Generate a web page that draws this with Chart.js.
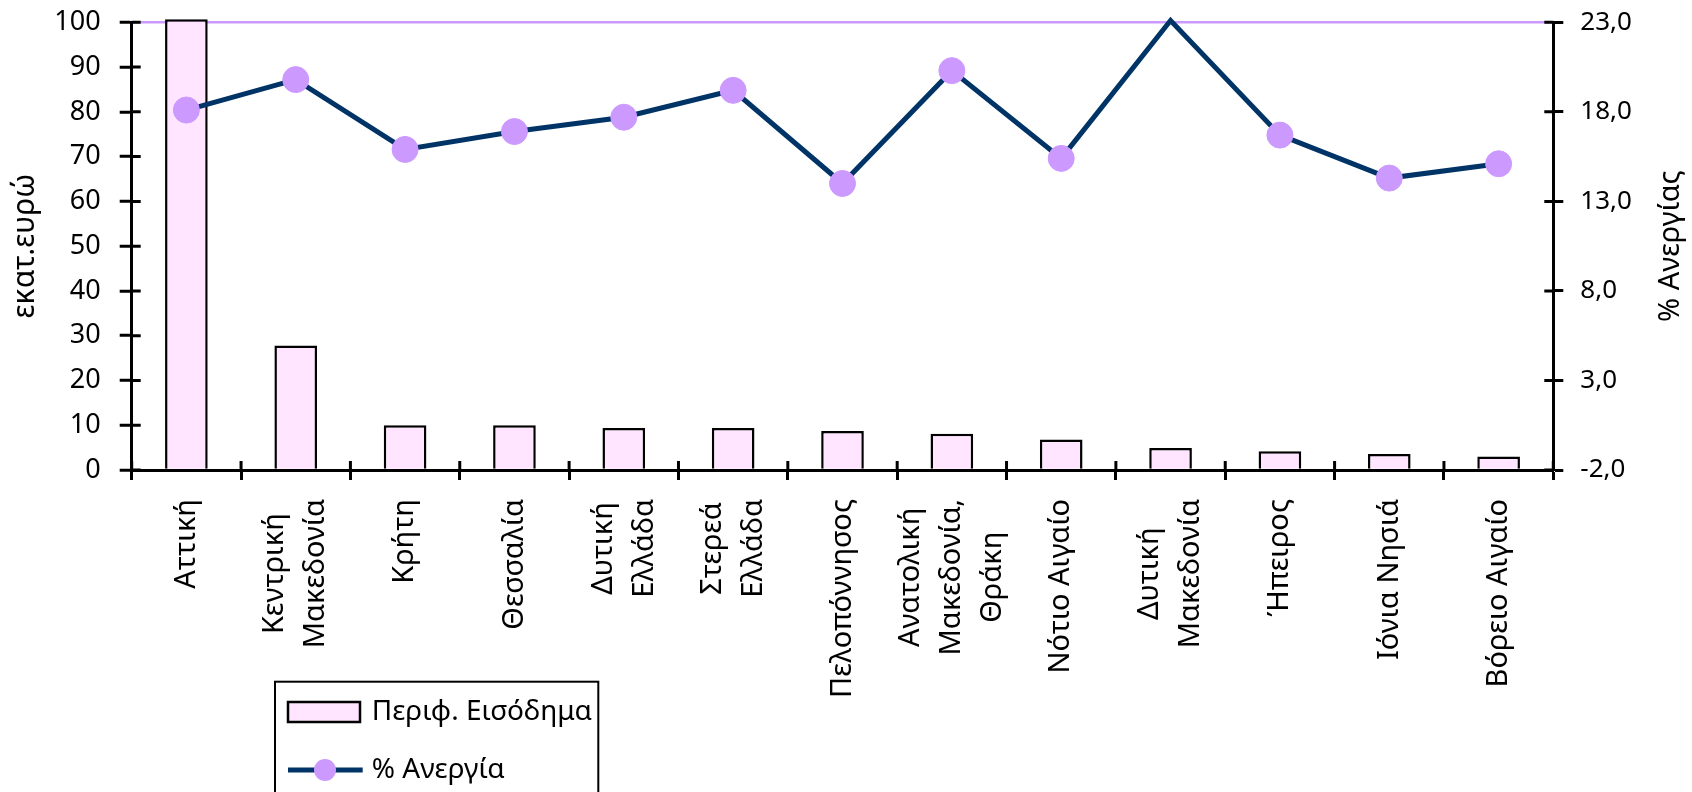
<!DOCTYPE html>
<html>
<head>
<meta charset="utf-8">
<script src="https://cdn.jsdelivr.net/npm/chart.js@4/dist/chart.umd.min.js"></script>
<style>
html,body{margin:0;padding:0;background:#fff;}
#wrap{width:1692px;height:792px;position:relative;}
</style>
</head>
<body>
<div id="wrap"><canvas id="c"></canvas></div>
<script>
const categories = [
  ["Αττική"], ["Κεντρική", "Μακεδονία"], ["Κρήτη"], ["Θεσσαλία"],
  ["Δυτική", "Ελλάδα"], ["Στερεά", "Ελλάδα"], ["Πελοπόννησος"],
  ["Ανατολική", "Μακεδονία,", "Θράκη"], ["Νότιο Αιγαίο"], ["Δυτική", "Μακεδονία"],
  ["Ήπειρος"], ["Ιόνια Νησιά"], ["Βόρειο Αιγαίο"]
];
const incomeValues = [100.7, 27.8, 10.0, 10.0, 9.4, 9.4, 8.7, 8.1, 6.8, 4.9, 4.2, 3.6, 3.0];
const unemploymentValues = [18.1, 19.8, 15.9, 16.9, 17.7, 19.2, 14.0, 20.3, 15.4, 23.1, 16.7, 14.3, 15.1];
const leftTickValues = [0, 10, 20, 30, 40, 50, 60, 70, 80, 90, 100];
const rightTickValues = [-2, 3, 8, 13, 18, 23];
const seriesNames = ["Περιφ. Εισόδημα", "% Ανεργία"];
const axisTitles = ["εκατ.ευρώ", "% Ανεργίας"];

const BAR_FILL = '#FFE5FF';
const LINE_COLOR = '#003366';
const MARKER_COLOR = '#CC99FF';
const FONT = '"Noto Sans", "DejaVu Sans", sans-serif';

Chart.defaults.font.family = FONT;
Chart.defaults.color = '#000';

const decor = {
  id: 'decor',
  afterDraw(chart) {
    const { ctx, chartArea: ca, scales } = chart;
    const x = scales.x, yl = scales.y, yr = scales.y1;
    ctx.save();
    // inner halves of the crossing tick marks
    ctx.strokeStyle = '#000';
    ctx.lineWidth = 3;
    ctx.beginPath();
    yl.ticks.forEach(t => { const py = yl.getPixelForValue(t.value); ctx.moveTo(ca.left, py); ctx.lineTo(ca.left + 9, py); });
    yr.ticks.forEach(t => { const py = yr.getPixelForValue(t.value); ctx.moveTo(ca.right - 9, py); ctx.lineTo(ca.right, py); });
    for (let i = 0; i <= categories.length; i++) {
      const px = x.getPixelForValue(i - 0.5);
      ctx.moveTo(px, ca.bottom - 9); ctx.lineTo(px, ca.bottom);
    }
    ctx.stroke();

    // category labels (rotated, lines centred on each other)
    ctx.fillStyle = '#000';
    ctx.font = '29px ' + FONT;
    ctx.textAlign = 'center';
    ctx.textBaseline = 'middle';
    const lh = 41, topY = ca.bottom + 29;
    categories.forEach((lines, i) => {
      const xc = x.getPixelForValue(i);
      const maxW = Math.max(...lines.map(l => ctx.measureText(l).width));
      const yc = topY + maxW / 2;
      lines.forEach((l, k) => {
        const px = xc + (k - (lines.length - 1) / 2) * lh;
        ctx.save(); ctx.translate(px, yc); ctx.rotate(-Math.PI / 2); ctx.fillText(l, 0, 0); ctx.restore();
      });
    });

    // right axis title (reads bottom to top)
    ctx.font = '29px ' + FONT;
    ctx.save();
    ctx.translate(1671, (ca.top + ca.bottom) / 2);
    ctx.rotate(-Math.PI / 2);
    ctx.fillText(axisTitles[1], 0, 0);
    ctx.restore();

    // legend
    const ds = chart.data.datasets;
    const bx = 275, by = 681.7, bw = 323.3;
    ctx.lineWidth = 2;
    ctx.strokeStyle = '#000';
    ctx.strokeRect(bx, by, bw, 200);
    ctx.textAlign = 'left';
    ctx.font = '28px ' + FONT;
    const barDs = ds.find(d => d.type === 'bar');
    const lineDs = ds.find(d => d.type === 'line');
    ctx.fillStyle = barDs.backgroundColor;
    ctx.fillRect(288, 702, 72, 20);
    ctx.lineWidth = 2.5;
    ctx.strokeStyle = barDs.borderColor;
    ctx.strokeRect(288, 702, 72, 20);
    ctx.fillStyle = '#000';
    ctx.fillText(barDs.label, 371.7, 712);
    ctx.strokeStyle = lineDs.borderColor;
    ctx.lineWidth = lineDs.borderWidth;
    ctx.beginPath(); ctx.moveTo(288, 770); ctx.lineTo(362.7, 770); ctx.stroke();
    ctx.fillStyle = lineDs.pointBackgroundColor;
    ctx.beginPath(); ctx.arc(325, 770, 11, 0, Math.PI * 2); ctx.fill();
    ctx.fillStyle = '#000';
    ctx.fillText(lineDs.label, 371.7, 770);
    ctx.restore();
  }
};

const rightMax = rightTickValues[rightTickValues.length - 1];

new Chart(document.getElementById('c'), {
  type: 'bar',
  data: {
    labels: categories,
    datasets: [
      {
        type: 'line',
        label: seriesNames[1],
        data: unemploymentValues,
        yAxisID: 'y1',
        borderColor: LINE_COLOR,
        borderWidth: 5,
        pointBackgroundColor: MARKER_COLOR,
        pointBorderColor: MARKER_COLOR,
        pointBorderWidth: 1,
        pointRadius: c => (c.raw > rightMax ? 0 : 13),
        tension: 0,
        clip: false,
        order: 1
      },
      {
        type: 'bar',
        label: seriesNames[0],
        data: incomeValues,
        yAxisID: 'y',
        backgroundColor: BAR_FILL,
        borderColor: '#000',
        borderWidth: 2.5,
        barPercentage: 0.39,
        categoryPercentage: 1,
        clip: false,
        order: 2
      }
    ]
  },
  options: {
    responsive: true,
    maintainAspectRatio: false,
    animation: false,
    layout: { padding: { top: 22.3, left: 0, right: 0, bottom: 0 } },
    plugins: { legend: { display: false }, tooltip: { enabled: false } },
    scales: {
      x: {
        type: 'category',
        offset: true,
        grid: { offset: true, drawOnChartArea: false, tickColor: '#000', tickLength: 10, tickWidth: 3 },
        ticks: { display: false },
        border: { color: '#000', width: 3 },
        afterFit: s => { s.height = 322; s.paddingLeft = 0; s.paddingRight = 0; },
        z: 1
      },
      y: {
        position: 'left',
        min: 0, max: 100,
        afterBuildTicks: s => { s.ticks = leftTickValues.map(v => ({ value: v })); },
        ticks: { font: { size: 27 }, color: '#000', padding: 19 },
        grid: {
          color: c => (c.tick && c.tick.value === leftTickValues[leftTickValues.length - 1] ? MARKER_COLOR : 'rgba(0,0,0,0)'),
          lineWidth: 2.5, tickColor: '#000', tickLength: 12, tickWidth: 3
        },
        border: { color: '#000', width: 3 },
        title: { display: true, text: axisTitles[0], font: { size: 30 }, color: '#000', padding: { top: 7, bottom: 0 } },
        afterFit: s => { s.width = 131.7; s.paddingTop = 0; s.paddingBottom = 0; }
      },
      y1: {
        position: 'right',
        min: -2, max: 23,
        afterBuildTicks: s => { s.ticks = rightTickValues.map(v => ({ value: v })); },
        ticks: { font: { size: 26 }, color: '#000', padding: 17, callback: v => Number(v).toFixed(1).replace('.', ',') },
        grid: { drawOnChartArea: false, tickColor: '#000', tickLength: 10, tickWidth: 3 },
        border: { color: '#000', width: 3 },
        afterFit: s => { s.width = 138.7; s.paddingTop = 0; s.paddingBottom = 0; },
        z: 1
      }
    }
  },
  plugins: [decor]
});
</script>
</body>
</html>
